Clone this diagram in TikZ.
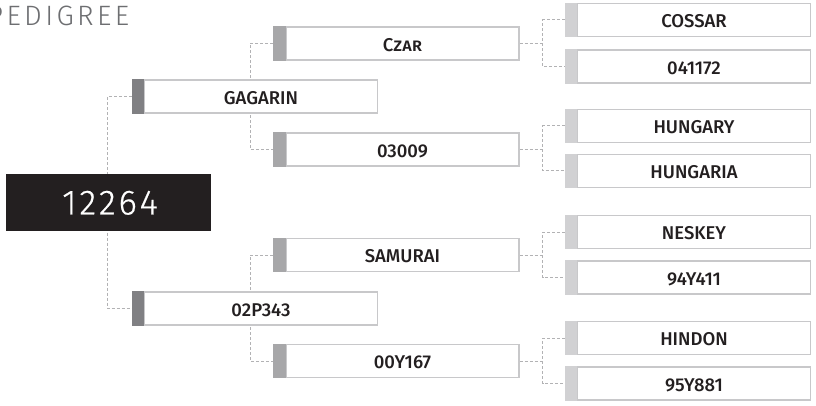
\documentclass[tikz,border=0pt]{standalone}
\usepackage{fontspec}
\setmainfont{Fira Sans Medium}
\newfontfamily\rootfont{Fira Sans Light}[LetterSpace=8, FakeBold=0.6]
\newfontfamily\titlefont{Fira Sans Light}[LetterSpace=12]
\usetikzlibrary{backgrounds}
\definecolor{tabdarkc}{HTML}{808083}
\definecolor{tabmidc}{HTML}{A7A7A9}
\definecolor{tablightc}{HTML}{D1D1D3}
\definecolor{edgec}{HTML}{C8C8CA}
\definecolor{dashc}{HTML}{B2B2B4}
\definecolor{inkc}{HTML}{231F20}
\definecolor{titlec}{HTML}{6D6E71}
\tikzset{
  member/.style={draw=edgec, line width=1.2pt, fill=white, minimum width=233pt,
    minimum height=33pt, inner sep=0pt, text=inkc, text height=15.5pt, text depth=0pt,
    font=\fontsize{18.5}{19}\selectfont},
  tabbox/.style={minimum width=12.6pt, minimum height=34.2pt, inner sep=0pt, anchor=east},
  tabdark/.style={tabbox, fill=tabdarkc},
  tabmid/.style={tabbox, fill=tabmidc},
  tablight/.style={tabbox, fill=tablightc},
  rootbox/.style={fill=inkc, minimum width=205pt, minimum height=57pt, inner sep=0pt,
    text=white, text height=24pt, text depth=0pt, font=\rootfont\fontsize{35}{35}\selectfont},
  conn/.style={draw=dashc, line width=1pt, dash pattern=on 3pt off 2pt},
}
\begin{document}
\begin{tikzpicture}[x=1pt,y=-1pt]
\useasboundingbox (0,0) rectangle (816,406);
% title
\node[anchor=base west, inner sep=0pt, text=titlec, font=\titlefont\fontsize{28}{28}\selectfont] (title) at (-13,26) {PEDIGREE};
% root
\node[rootbox] (root) at (108.5,202.5) {\hspace*{3pt}12264};
% generation 1
\node[member] (gag) at (261,96.5) {GAGARIN};
\node[tabdark] (gagt) at ([xshift=0.6pt]gag.west) {};
\node[member] (p02) at (261,308.5) {02P343};
\node[tabdark] (p02t) at ([xshift=0.6pt]p02.west) {};
% generation 2
\node[member] (czar) at (402.5,43.5) {\textsc{Czar}};
\node[tabmid] (czart) at ([xshift=0.6pt]czar.west) {};
\node[member] (h03) at (402.5,149.5) {03009};
\node[tabmid] (h03t) at ([xshift=0.6pt]h03.west) {};
\node[member] (sam) at (402.5,255) {SAMURAI};
\node[tabmid] (samt) at ([xshift=0.6pt]sam.west) {};
\node[member] (y00) at (402.5,361) {00Y167};
\node[tabmid] (y00t) at ([xshift=0.6pt]y00.west) {};
% generation 3
\node[member] (cos) at (694,20) {COSSAR};
\node[tablight] (cost) at ([xshift=0.6pt]cos.west) {};
\node[member] (c041) at (694,66.5) {041172};
\node[tablight] (c041t) at ([xshift=0.6pt]c041.west) {};
\node[member] (hun) at (694,126) {HUNGARY};
\node[tablight] (hunt) at ([xshift=0.6pt]hun.west) {};
\node[member] (hga) at (694,171) {HUNGARIA};
\node[tablight] (hgat) at ([xshift=0.6pt]hga.west) {};
\node[member] (nes) at (694,232) {NESKEY};
\node[tablight] (nest) at ([xshift=0.6pt]nes.west) {};
\node[member] (y94) at (694,277.5) {94Y411};
\node[tablight] (y94t) at ([xshift=0.6pt]y94.west) {};
\node[member] (hin) at (694,338) {HINDON};
\node[tablight] (hint) at ([xshift=0.6pt]hin.west) {};
\node[member] (y95) at (694,383.5) {95Y881};
\node[tablight] (y95t) at ([xshift=0.6pt]y95.west) {};
% connectors
\begin{pgfonlayer}{background}
\draw[conn] (gagt.west) -- ++(-24,0) |- (p02t.west);
\draw[conn] (czart.west) -- ++(-23,0) |- (h03t.west);
\draw[conn] (samt.west) -- ++(-23,0) |- (y00t.west);
\draw[conn] (czar.east) -- ++(23,0) coordinate (ja);
\draw[conn] (cost.west) -| (ja) |- (c041t.west);
\draw[conn] (h03.east) -- ++(23,0) coordinate (jb);
\draw[conn] (hunt.west) -| (jb) |- (hgat.west);
\draw[conn] (sam.east) -- ++(23,0) coordinate (jc);
\draw[conn] (nest.west) -| (jc) |- (y94t.west);
\draw[conn] (y00.east) -- ++(23,0) coordinate (jd);
\draw[conn] (hint.west) -| (jd) |- (y95t.west);
\end{pgfonlayer}
\end{tikzpicture}
\end{document}
